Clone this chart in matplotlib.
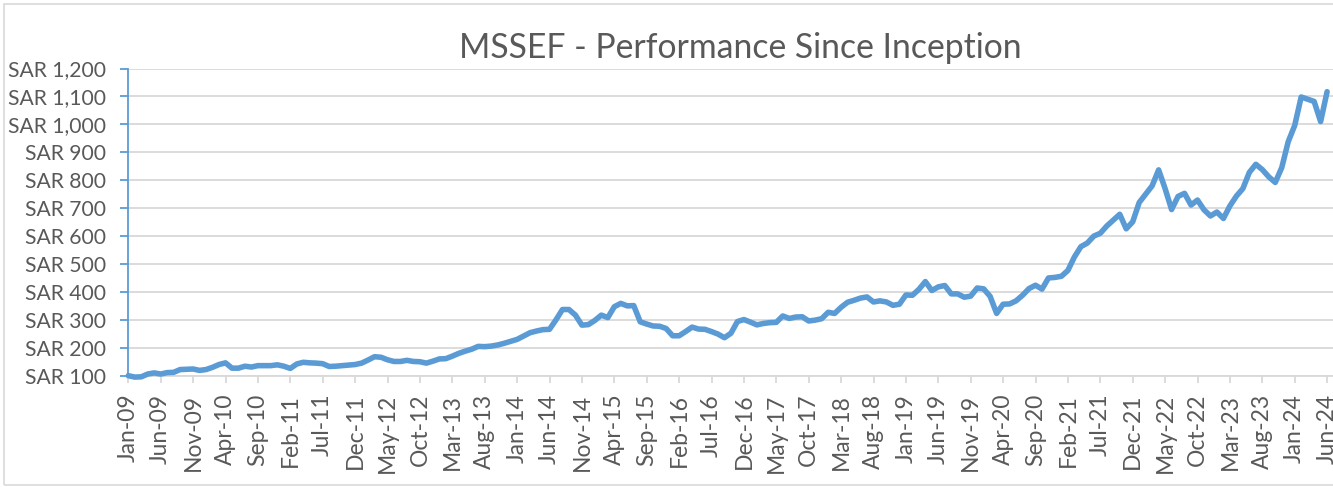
import matplotlib
matplotlib.use("Agg")
import matplotlib.pyplot as plt
import matplotlib.ticker as ticker
from matplotlib.patches import Rectangle

# Monthly NAV, Jan-09 .. Jun-24
nav = [
    100, 95, 96, 106, 110, 106, 111, 112, 122, 123,
    124, 119, 122, 130, 140, 146, 127, 127, 134, 131,
    136, 136, 136, 139, 134, 126, 142, 148, 146, 145,
    143, 133, 134, 136, 138, 140, 145, 156, 168, 166,
    157, 151, 151, 155, 151, 150, 145, 152, 160, 161,
    170, 180, 188, 195, 205, 204, 206, 210, 216, 223,
    230, 242, 254, 260, 265, 266, 300, 337, 337, 317,
    281, 283, 298, 317, 308, 347, 359, 350, 351, 293,
    285, 278, 277, 269, 243, 243, 258, 274, 267, 266,
    258, 249, 236, 252, 294, 301, 292, 282, 287, 290,
    291, 314, 305, 310, 311, 296, 299, 304, 327, 323,
    345, 363, 370, 378, 382, 364, 368, 364, 352, 356,
    389, 388, 409, 437, 405, 418, 423, 393, 393, 381,
    385, 414, 411, 384, 323, 356, 357, 368, 388, 412,
    424, 410, 450, 452, 456, 477, 525, 562, 575, 600,
    610, 636, 657, 678, 626, 651, 720, 750, 780, 837,
    770, 695, 742, 753, 711, 729, 694, 672, 686, 663,
    708, 743, 770, 828, 857, 838, 812, 792, 845, 938,
    996, 1098, 1090, 1082, 1010, 1117,
]

tick_labels = [
    "Jan-09", "Jun-09", "Nov-09", "Apr-10", "Sep-10", "Feb-11", "Jul-11",
    "Dec-11", "May-12", "Oct-12", "Mar-13", "Aug-13", "Jan-14", "Jun-14",
    "Nov-14", "Apr-15", "Sep-15", "Feb-16", "Jul-16", "Dec-16", "May-17",
    "Oct-17", "Mar-18", "Aug-18", "Jan-19", "Jun-19", "Nov-19", "Apr-20",
    "Sep-20", "Feb-21", "Jul-21", "Dec-21", "May-22", "Oct-22", "Mar-23",
    "Aug-23", "Jan-24", "Jun-24",
]
TICK_STEP = 5  # one label every 5 months

y_ticks = list(range(100, 1201, 100))

LINE_BLUE = "#5B9BD5"
GRID = "#D9D9D9"
TEXT = "#595959"

plt.rcParams["font.family"] = ["Lato", "DejaVu Sans"]

W, H = 1333, 487
fig = plt.figure(figsize=(W / 100, H / 100), dpi=100)

# chart border
fig.patches.append(Rectangle((4 / W, 2 / H), 1.2, (H - 6) / H, transform=fig.transFigure,
                             fill=False, edgecolor=GRID, linewidth=1.2))

left, bottom, top = 128.3 / W, 1 - 375.7 / H, 1 - 68.5 / H
ax = fig.add_axes([left, bottom, 1 - left, top - bottom])

x = list(range(len(nav)))
ax.plot(x, nav, color=LINE_BLUE, linewidth=4.0, solid_joinstyle="round",
        solid_capstyle="round", clip_on=False, zorder=3)

ax.set_ylim(100, 1200)
ax.set_xlim(0, (W - 128.3) / 6.48)

ax.set_yticks(y_ticks)
ax.yaxis.set_major_formatter(ticker.FuncFormatter(lambda v, _: f"SAR {v:,.0f}"))
ax.set_xticks([i * TICK_STEP for i in range(len(tick_labels))])
ax.set_xticklabels(tick_labels, rotation=90, va="top", ha="center")

ax.grid(axis="y", color=GRID, linewidth=1.3, zorder=0)
for side in ("top", "right"):
    ax.spines[side].set_visible(False)
ax.spines["left"].set_color(LINE_BLUE)
ax.spines["left"].set_linewidth(1.3)
ax.spines["bottom"].set_color(GRID)
ax.spines["bottom"].set_linewidth(1.3)

ax.tick_params(axis="y", direction="out", length=6, width=1.3, color=LINE_BLUE,
               labelsize=15.2, labelcolor=TEXT, pad=10)
ax.tick_params(axis="x", direction="out", length=5, width=1.3, color=GRID,
               labelsize=16.5, labelcolor=TEXT, pad=8)

fig.text(740 / W, 1 - 48 / H, "MSSEF - Performance Since Inception", ha="center",
         va="center", fontsize=24.3, color=TEXT)

fig.savefig("out.png", dpi=100)
